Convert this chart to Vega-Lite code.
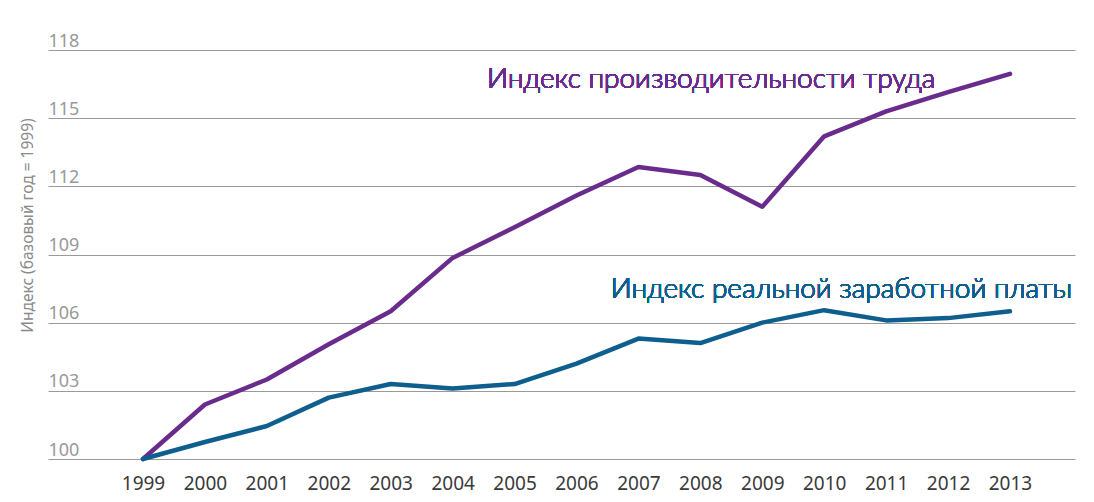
{
  "$schema": "https://vega.github.io/schema/vega-lite/v6.json",
  "autosize": "none",
  "width": 1027,
  "height": 409,
  "padding": {"left": 48, "top": 50, "right": 19, "bottom": 43},
  "background": "white",
  "config": {"view": {"stroke": null}, "font": "Noto Sans"},
  "data": {
    "values": [
      {"year": 1999, "series": "Производительность", "value": 100.0},
      {"year": 2000, "series": "Производительность", "value": 102.4},
      {"year": 2001, "series": "Производительность", "value": 103.5},
      {"year": 2002, "series": "Производительность", "value": 105.05},
      {"year": 2003, "series": "Производительность", "value": 106.5},
      {"year": 2004, "series": "Производительность", "value": 108.85},
      {"year": 2005, "series": "Производительность", "value": 110.2},
      {"year": 2006, "series": "Производительность", "value": 111.6},
      {"year": 2007, "series": "Производительность", "value": 112.85},
      {"year": 2008, "series": "Производительность", "value": 112.5},
      {"year": 2009, "series": "Производительность", "value": 111.1},
      {"year": 2010, "series": "Производительность", "value": 114.2},
      {"year": 2011, "series": "Производительность", "value": 115.3},
      {"year": 2012, "series": "Производительность", "value": 116.15},
      {"year": 2013, "series": "Производительность", "value": 116.95},
      {"year": 1999, "series": "Зарплата", "value": 100.0},
      {"year": 2000, "series": "Зарплата", "value": 100.75},
      {"year": 2001, "series": "Зарплата", "value": 101.45},
      {"year": 2002, "series": "Зарплата", "value": 102.7},
      {"year": 2003, "series": "Зарплата", "value": 103.3},
      {"year": 2004, "series": "Зарплата", "value": 103.1},
      {"year": 2005, "series": "Зарплата", "value": 103.3},
      {"year": 2006, "series": "Зарплата", "value": 104.2},
      {"year": 2007, "series": "Зарплата", "value": 105.3},
      {"year": 2008, "series": "Зарплата", "value": 105.1},
      {"year": 2009, "series": "Зарплата", "value": 106.0},
      {"year": 2010, "series": "Зарплата", "value": 106.55},
      {"year": 2011, "series": "Зарплата", "value": 106.1},
      {"year": 2012, "series": "Зарплата", "value": 106.2},
      {"year": 2013, "series": "Зарплата", "value": 106.5}
    ]
  },
  "layer": [
    {
      "mark": {"type": "line", "strokeWidth": 4.5, "strokeCap": "round", "strokeJoin": "round"},
      "encoding": {
        "x": {
          "field": "year",
          "type": "quantitative",
          "scale": {"domain": [1997.466, 2014.05], "nice": false, "zero": false},
          "axis": {
            "values": [1999, 2000, 2001, 2002, 2003, 2004, 2005, 2006, 2007, 2008, 2009, 2010, 2011, 2012, 2013],
            "format": "d",
            "title": null,
            "grid": false,
            "domain": false,
            "ticks": false,
            "labelPadding": 15,
            "labelFontSize": 19,
            "labelColor": "#3a3a3a",
            "labelFont": "Noto Sans"
          }
        },
        "y": {
          "field": "value",
          "type": "quantitative",
          "scale": {"domain": [100, 118], "nice": false, "zero": false},
          "axis": {
            "values": [100, 103, 106, 109, 112, 115, 118],
            "title": "Индекс (базовый год = 1999)",
            "titleColor": "#8a8a8a",
            "titleFontSize": 15.5,
            "titleFontWeight": "normal",
            "titleFont": "Noto Sans",
            "titleX": -21,
            "titleY": 175,
            "titleAngle": -90,
            "titleAlign": "center",
            "titleBaseline": "middle",
            "grid": true,
            "gridColor": "#9a9a9a",
            "gridWidth": 1,
            "domain": false,
            "ticks": false,
            "labelAlign": "left",
            "labelBaseline": "bottom",
            "labelPadding": 0,
            "labelDy": -6,
            "labelFontSize": 18,
            "labelColor": "#999999",
            "labelFont": "Noto Sans"
          }
        },
        "color": {
          "field": "series",
          "type": "nominal",
          "scale": {"domain": ["Производительность", "Зарплата"], "range": ["#6a2c8c", "#0e5e8e"]},
          "legend": null
        }
      }
    },
    {
      "mark": {"type": "text", "align": "left", "baseline": "middle", "fontSize": 28, "fontWeight": 300, "color": "#6a2c8c", "font": "Lato"},
      "encoding": {
        "x": {"datum": 2004.555, "type": "quantitative"},
        "y": {"datum": 116.68, "type": "quantitative"},
        "text": {"value": "Индекс производительности труда"}
      }
    },
    {
      "mark": {"type": "text", "align": "right", "baseline": "middle", "fontSize": 28, "fontWeight": 300, "color": "#0e5e8e", "font": "Lato"},
      "encoding": {
        "x": {"datum": 2014.0, "type": "quantitative"},
        "y": {"datum": 107.44, "type": "quantitative"},
        "text": {"value": "Индекс реальной заработной платы"}
      }
    }
  ]
}
